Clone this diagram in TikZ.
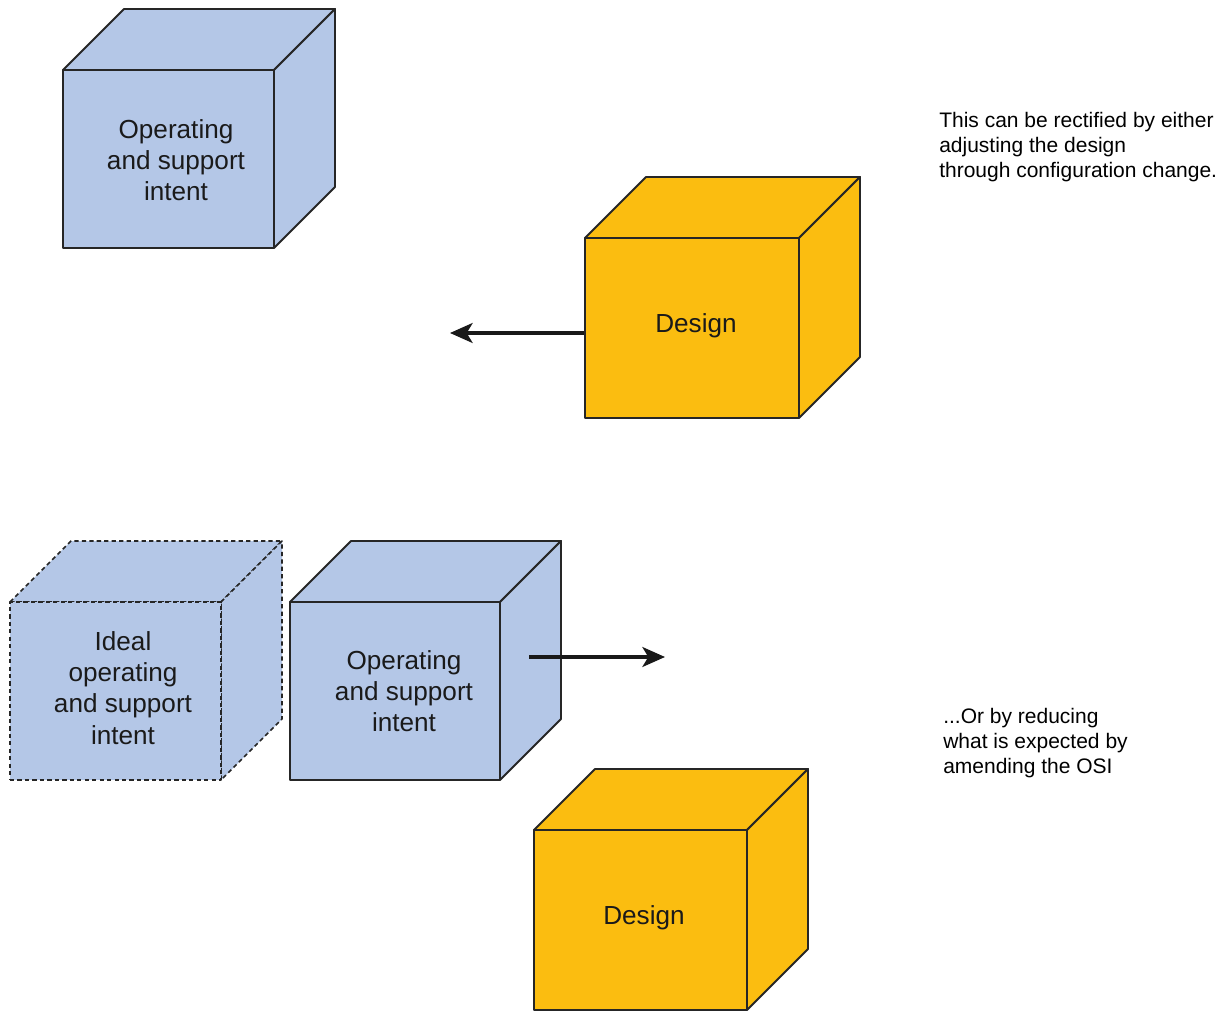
\documentclass[tikz,border=0pt]{standalone}
\usepackage{fontspec}
\setmainfont{Liberation Sans}
\usetikzlibrary{arrows.meta,fit}

\definecolor{cubeblue}{HTML}{B4C7E7}
\definecolor{cubegold}{HTML}{FBBD10}
\definecolor{edge}{HTML}{262626}
\definecolor{ink}{HTML}{1A1A1A}

\tikzset{
  face/.style={draw=edge, line width=1.4pt, line join=round},
  blueface/.style={face, fill=cubeblue},
  goldface/.style={face, fill=cubegold},
  ghostface/.style={blueface, line width=1.2pt, dash pattern=on 3.2pt off 2.4pt},
  cubetext/.style={font=\fontsize{19.6}{23.4}\selectfont, align=center, text=ink, inner sep=0pt},
  note/.style={font=\fontsize{15.75}{19}\selectfont, align=left, text=black, anchor=west, inner sep=0pt},
  pusharrow/.style={-{Stealth[length=17pt,width=15pt,inset=4.5pt]}, line width=2.3pt, draw=black!90}
}

% cube: name, left, top, right, bottom of the front face, face style
\newcommand\drawcube[6]{%
  \draw[#6] (#2,#3) -- ++(61,-61) -- ({#4+61},{#3-61}) -- (#4,#3) -- cycle;
  \draw[#6] (#4,#3) -- ++(61,-61) -- ({#4+61},{#5-61}) -- (#4,#5) -- cycle;
  \node[#6, fit={(#2,#3)(#4,#5)}, inner sep=0pt] (#1) {};
}

\begin{document}
\begin{tikzpicture}[x=0.75pt,y=-0.75pt]
  \useasboundingbox[fill=white] (0,0) rectangle (1225,1012);

  % upper scene: design falls short of the intent
  \drawcube{intentA}{63}{70}{274}{248}{blueface}
  \node[cubetext] (intentAtxt) at (176,160) {Operating\\and support\\intent};

  \drawcube{designA}{585}{238}{799}{418}{goldface}
  \node[cubetext] (designAtxt) at (696,326) {Design};

  \coordinate (shiftA) at (450,333);
  \draw[pusharrow] (designA.west |- shiftA) -- (shiftA);

  \node[note] (noteA) at (939,147) {This can be rectified by either\\adjusting the design\\through configuration change.};

  % lower scene: the intent is reduced toward the design
  \drawcube{ideal}{10}{602}{221}{780}{ghostface}
  \node[cubetext] (idealtxt) at (123,688) {Ideal\\operating\\and support\\intent};

  \drawcube{intentB}{290}{602}{500}{780}{blueface}
  \node[cubetext] (intentBtxt) at (404,691) {Operating\\and support\\intent};

  \coordinate (pushB) at (529,657);
  \coordinate (shiftB) at (665,657);
  \draw[pusharrow] (pushB) -- (shiftB);

  \drawcube{designB}{534}{830}{747}{1010}{goldface}
  \node[cubetext] (designBtxt) at (644,918) {Design};

  \node[note] (noteB) at (943,743) {...Or by reducing\\what is expected by\\amending the OSI};
\end{tikzpicture}
\end{document}
